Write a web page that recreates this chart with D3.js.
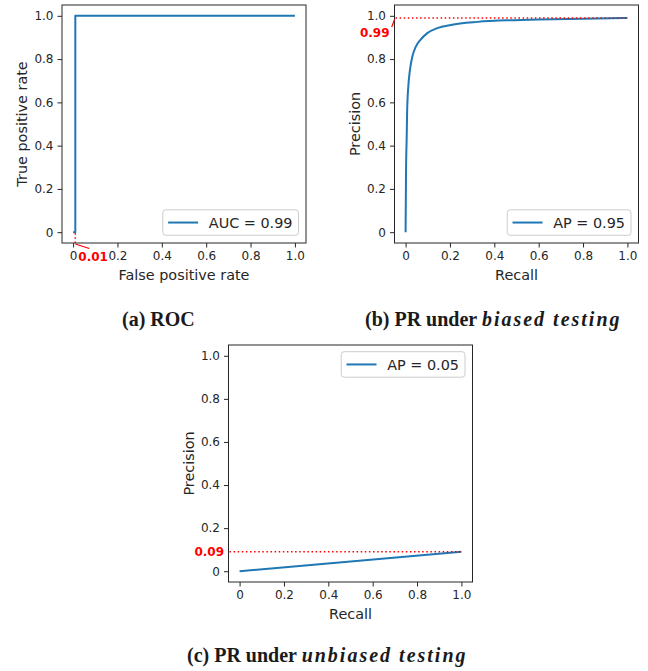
<!DOCTYPE html>
<html>
<head>
<meta charset="utf-8">
<script src="https://cdn.jsdelivr.net/npm/d3@7"></script>
<style>
  html, body { margin: 0; padding: 0; background: #fff; }
  svg { display: block; }
</style>
</head>
<body>
<svg id="fig" width="648" height="671"></svg>
<script>
// ---- data ----
const tickValues = [0, 0.2, 0.4, 0.6, 0.8, 1.0];
const tickLabels = ["0", "0.2", "0.4", "0.6", "0.8", "1.0"];

// (a) ROC curve
const rocFpr = [0, 0.01, 0.01, 1.0];
const rocTpr = [0, 0, 1.0, 1.0];
const rocLegend = "AUC = 0.99";
const rocMarkFpr = 0.01;
const rocMarkLabel = "0.01";

// (b) precision-recall, biased testing
const biasedRecall = [0, 0.002, 0.005, 0.007, 0.012, 0.019, 0.03, 0.045, 0.068, 0.098, 0.143, 0.204, 0.324, 0.49, 0.6, 0.8, 1.0];
const biasedPrecision = [0, 0.28, 0.44, 0.56, 0.67, 0.745, 0.81, 0.855, 0.89, 0.92, 0.943, 0.958, 0.972, 0.98, 0.983, 0.987, 0.99];
const biasedLegend = "AP = 0.95";
const biasedMarkPrecision = 0.99;
const biasedMarkLabel = "0.99";

// (c) precision-recall, unbiased testing
const unbiasedRecall = [0, 1.0];
const unbiasedPrecision = [0, 0.09];
const unbiasedLegend = "AP = 0.05";
const unbiasedMarkPrecision = 0.09;
const unbiasedMarkLabel = "0.09";

const captions = [
  { id: "a", parts: [["(a) ROC", false]] },
  { id: "b", parts: [["(b) PR under ", false], ["biased testing", true]] },
  { id: "c", parts: [["(c) PR under ", false], ["unbiased testing", true]] }
];

// ---- styling ----
const BLUE = "#1f77b4";
const RED = "#ff0000";
const INK = "#262626";
const SANS = "DejaVu Sans, sans-serif";
const SERIF = "Liberation Serif, DejaVu Serif, serif";

const svg = d3.select("#fig");

function panel(opts) {
  const { left, top, width, height } = opts;
  const g = svg.append("g");
  const x = d3.scaleLinear().domain([-0.05, 1.05]).range([left, left + width]);
  const y = d3.scaleLinear().domain([-0.05, 1.05]).range([top + height, top]);

  // axes
  const xAxis = d3.axisBottom(x).tickValues(tickValues)
    .tickFormat((d, i) => tickLabels[i]).tickSize(4.5).tickPadding(3.5);
  const yAxis = d3.axisLeft(y).tickValues(tickValues)
    .tickFormat((d, i) => tickLabels[i]).tickSize(4.5).tickPadding(4);

  const gx = g.append("g").attr("transform", `translate(0,${top + height})`).call(xAxis);
  const gy = g.append("g").attr("transform", `translate(${left},0)`).call(yAxis);
  [gx, gy].forEach(a => {
    a.select(".domain").remove();
    a.selectAll(".tick line").attr("stroke", INK).attr("stroke-width", 1);
    a.selectAll(".tick text").attr("fill", INK).attr("font-family", SANS).attr("font-size", 12);
  });

  // frame
  g.append("rect")
    .attr("x", left).attr("y", top).attr("width", width).attr("height", height)
    .attr("fill", "none").attr("stroke", INK).attr("stroke-width", 1);

  // axis titles
  g.append("text")
    .attr("x", x(0.5)).attr("y", top + height + 37)
    .attr("text-anchor", "middle").attr("fill", INK)
    .attr("font-family", SANS).attr("font-size", 14.4)
    .text(opts.xTitle);
  g.append("text")
    .attr("transform", `translate(${left - 35},${y(0.5)}) rotate(-90)`)
    .attr("text-anchor", "middle").attr("fill", INK)
    .attr("font-family", SANS).attr("font-size", 14.4)
    .text(opts.yTitle);

  // curve
  const pts = opts.xs.map((v, i) => [v, opts.ys[i]]);
  const line = d3.line().x(d => x(d[0])).y(d => y(d[1])).curve(opts.curve || d3.curveLinear);
  g.append("path").datum(pts)
    .attr("d", line).attr("fill", "none")
    .attr("stroke", BLUE).attr("stroke-width", 2)
    .attr("stroke-linejoin", "round");

  // legend
  const lg = g.append("g");
  const txt = lg.append("text")
    .attr("font-family", SANS).attr("font-size", 14.4).attr("fill", INK)
    .attr("dominant-baseline", "central")
    .text(opts.legend);
  const tw = txt.node().getComputedTextLength();
  const lw = 46 + tw + 6, lh = 25.5;
  const lx = left + width - 7.5 - lw;
  const ly = opts.legendTop ? top + 6.7 : top + height - 7.7 - lh;
  lg.insert("rect", "text")
    .attr("x", lx).attr("y", ly).attr("width", lw).attr("height", lh)
    .attr("rx", 3).attr("fill", "#fff").attr("fill-opacity", 0.8)
    .attr("stroke", "#cccccc").attr("stroke-width", 1);
  lg.append("line")
    .attr("x1", lx + 5.3).attr("x2", lx + 35.3)
    .attr("y1", ly + lh / 2).attr("y2", ly + lh / 2)
    .attr("stroke", BLUE).attr("stroke-width", 2);
  txt.attr("x", lx + 46).attr("y", ly + lh / 2 + 0.5);

  return { g, x, y };
}

function redText(g, px, py, anchor, label) {
  g.append("text")
    .attr("x", px).attr("y", py).attr("text-anchor", anchor)
    .attr("fill", RED).attr("font-family", SANS).attr("font-weight", "bold")
    .attr("font-size", 12).text(label);
}

function dotted(g, x1, y1, x2, y2) {
  g.append("line")
    .attr("x1", x1).attr("y1", y1).attr("x2", x2).attr("y2", y2)
    .attr("stroke", RED).attr("stroke-width", 1.5)
    .attr("stroke-dasharray", "1.5,2.6");
}

// (a) ROC
const pa = panel({
  left: 62, top: 5, width: 244, height: 238,
  xs: rocFpr, ys: rocTpr, legend: rocLegend,
  xTitle: "False positive rate", yTitle: "True positive rate"
});
{
  const { g, x, y } = pa;
  const mx = x(rocMarkFpr);
  dotted(g, mx, y(0) + 1, mx, y(-0.05));
  g.append("line")
    .attr("x1", mx).attr("y1", y(-0.05) + 1).attr("x2", mx + 14).attr("y2", y(-0.05) + 5.5)
    .attr("stroke", RED).attr("stroke-width", 1.2);
  redText(g, mx + 3, y(-0.05) + 18.3, "start", rocMarkLabel);
}

// (b) PR, biased testing
const pb = panel({
  left: 394.5, top: 5, width: 244, height: 238,
  xs: biasedRecall, ys: biasedPrecision, legend: biasedLegend,
  curve: d3.curveMonotoneX,
  xTitle: "Recall", yTitle: "Precision"
});
{
  const { g, x, y } = pb;
  const my = y(biasedMarkPrecision);
  dotted(g, x(-0.05) + 1, my, x(1.0), my);
  g.append("line")
    .attr("x1", x(-0.05) - 2.8).attr("y1", my + 9).attr("x2", x(-0.05)).attr("y2", my + 1.5)
    .attr("stroke", RED).attr("stroke-width", 1.2);
  redText(g, x(-0.05) - 5, my + 19.5, "end", biasedMarkLabel);
}

// (c) PR, unbiased testing
const pc = panel({
  left: 228.5, top: 345, width: 244, height: 237,
  xs: unbiasedRecall, ys: unbiasedPrecision, legend: unbiasedLegend,
  legendTop: true,
  xTitle: "Recall", yTitle: "Precision"
});
{
  const { g, x, y } = pc;
  const my = y(unbiasedMarkPrecision);
  dotted(g, x(-0.05) + 1, my, x(1.0), my);
  redText(g, x(-0.05) - 4.5, my + 4.3, "end", unbiasedMarkLabel);
}

// captions (left-anchored so the wide italic run stays put)
const capPos = { a: [122, 326], b: [365, 326], c: [187, 662] };
captions.forEach(c => {
  const t = svg.append("text")
    .attr("x", capPos[c.id][0]).attr("y", capPos[c.id][1])
    .attr("text-anchor", "start").attr("fill", "#1a1a1a")
    .attr("font-family", SERIF).attr("font-weight", "bold").attr("font-size", 20);
  c.parts.forEach(([s, it]) => {
    const ts = t.append("tspan").attr("font-style", it ? "italic" : "normal").text(s);
    if (it) ts.attr("letter-spacing", 2.0);
  });
});
</script>
</body>
</html>
